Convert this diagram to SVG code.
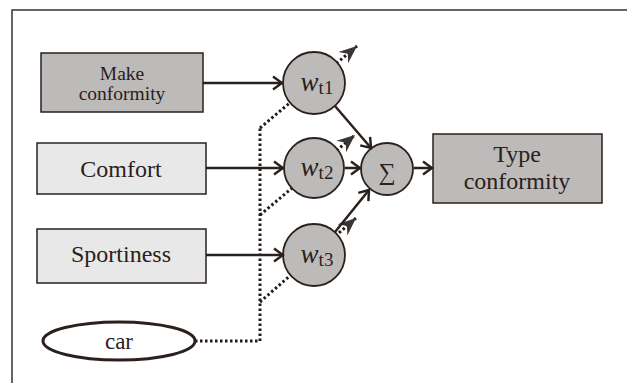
<svg xmlns="http://www.w3.org/2000/svg" width="627" height="383" viewBox="0 0 627 383">
<style>
  text { font-family: "Liberation Serif", "DejaVu Serif", serif; fill: #2a201c; }
  .box { stroke: #2a201c; stroke-width: 1.5; }
  .dark { fill: #bdbbb9; }
  .light { fill: #e8e8e8; }
  .node { fill: #bdbbb9; stroke: #2a201c; stroke-width: 1.8; }
  .conn { stroke: #2a201c; stroke-width: 2.5; fill: none; marker-end: url(#chev); }
  .dot { stroke: #221c1a; stroke-width: 3; fill: none; stroke-dasharray: 2.5 2.5; }
  .adapt { marker-end: url(#stealth); }
</style>
<defs>
  <marker id="chev" markerUnits="userSpaceOnUse" markerWidth="14" markerHeight="16" viewBox="-12 -8 14 16" refX="0" refY="0" orient="auto">
    <path d="M-9,-6.5 L0,0 L-9,6.5" fill="none" stroke="#2a201c" stroke-width="2.5"/>
  </marker>
  <marker id="stealth" markerUnits="userSpaceOnUse" markerWidth="22" markerHeight="18" viewBox="-20 -9 22 18" refX="0" refY="0" orient="auto">
    <path d="M0,0 L-18,-7.5 L-12,0 L-18,7.5 Z" fill="#3a3432" stroke="none"/>
  </marker>
</defs>
<rect x="12" y="10" width="640" height="400" fill="#ffffff" stroke="#333" stroke-width="1.5"/>

<g id="connectors">
  <path class="dot" d="M195,341 H260 V128"/>
  <path class="dot adapt" d="M260,128 L357,46"/>
  <path class="dot adapt" d="M260,215 L355,135"/>
  <path class="dot adapt" d="M260,302 L356,218"/>
</g>

<g id="make">
  <rect class="box dark" x="41" y="53" width="162" height="59"/>
  <text x="122" y="80" font-size="19.5" text-anchor="middle">Make</text>
  <text x="122" y="100" font-size="19.5" text-anchor="middle">conformity</text>
</g>
<g id="comfort">
  <rect class="box light" x="37" y="143" width="169" height="51"/>
  <text x="121" y="177" font-size="24" text-anchor="middle">Comfort</text>
</g>
<g id="sportiness">
  <rect class="box light" x="37" y="229" width="169" height="54"/>
  <text x="121" y="262" font-size="24" text-anchor="middle">Sportiness</text>
</g>
<g id="car">
  <ellipse cx="119" cy="341" rx="76" ry="19" fill="#ffffff" stroke="#2a201c" stroke-width="3"/>
  <text x="119" y="349" font-size="23" text-anchor="middle">car</text>
</g>

<g id="wt1">
  <circle class="node" cx="314" cy="83" r="31"/>
  <text x="317" y="91" text-anchor="middle"><tspan font-size="27" font-style="italic">w</tspan><tspan font-size="19" dy="3">t1</tspan></text>
</g>
<g id="wt2">
  <circle class="node" cx="314" cy="168" r="30"/>
  <text x="317" y="176" text-anchor="middle"><tspan font-size="27" font-style="italic">w</tspan><tspan font-size="19" dy="3">t2</tspan></text>
</g>
<g id="wt3">
  <circle class="node" cx="314" cy="255" r="31"/>
  <text x="317" y="263" text-anchor="middle"><tspan font-size="27" font-style="italic">w</tspan><tspan font-size="19" dy="3">t3</tspan></text>
</g>
<g id="sum">
  <circle class="node" cx="387" cy="169" r="26"/>
  <text x="387" y="180" font-size="24" text-anchor="middle">∑</text>
</g>
<g id="type">
  <rect class="box dark" x="433" y="134" width="169" height="69"/>
  <text x="517" y="162" font-size="24" text-anchor="middle">Type</text>
  <text x="517" y="189" font-size="24" text-anchor="middle">conformity</text>
</g>

<g id="solid-connectors">
  <line class="conn" x1="203" y1="83" x2="282" y2="83"/>
  <line class="conn" x1="206" y1="168" x2="283" y2="168"/>
  <line class="conn" x1="206" y1="255" x2="283" y2="255"/>
  <line class="conn" x1="335" y1="106" x2="371" y2="148"/>
  <line class="conn" x1="345" y1="168" x2="360" y2="168"/>
  <line class="conn" x1="335" y1="232" x2="369" y2="190"/>
  <line class="conn" x1="414" y1="168" x2="432" y2="168"/>
</g>
</svg>
